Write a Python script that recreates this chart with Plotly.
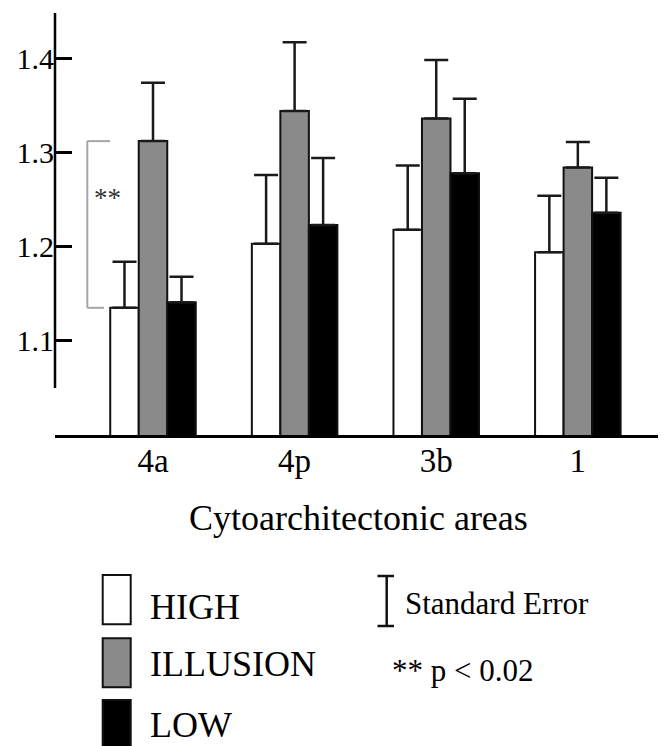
import plotly.graph_objects as go

# ---- data ----
areas = ["4a", "4p", "3b", "1"]
high = [1.135, 1.203, 1.218, 1.194]
high_se = [0.049, 0.073, 0.068, 0.060]
illusion = [1.312, 1.344, 1.336, 1.284]
illusion_se = [0.062, 0.073, 0.062, 0.027]
low = [1.141, 1.223, 1.278, 1.236]
low_se = [0.027, 0.071, 0.079, 0.037]
y_ticks = [1.1, 1.2, 1.3, 1.4]
y_tick_labels = ["1.1", "1.2", "1.3", "1.4"]

FONT = "Liberation Serif"
OFF = 8  # page body margin
W, H = 666, 746
L, R, T, B = 55 - OFF, 0, 13 - OFF, H - (435 - OFF)
plot_h = H - T - B
plot_w = W - L - R


def py(p):
    # window pixel y -> paper coordinate
    return (H - B - (p - OFF)) / plot_h


def pxx(p):
    # window pixel x -> paper coordinate
    return ((p - OFF) - L) / plot_w


fig = go.Figure()
series = [
    ("HIGH", high, high_se, "#ffffff"),
    ("ILLUSION", illusion, illusion_se, "#8a8a8a"),
    ("LOW", low, low_se, "#000000"),
]
for name, vals, se, color in series:
    fig.add_trace(go.Bar(
        name=name, x=areas, y=vals,
        marker=dict(color=color, line=dict(color="#111111", width=2)),
        error_y=dict(type="data", array=se, arrayminus=[0] * len(se),
                     symmetric=False, color="#1a1a1a", thickness=2.5, width=12),
        showlegend=False,
    ))

shapes = []
# y axis line (does not reach the baseline)
shapes.append(dict(type="line", xref="paper", yref="y", x0=0, x1=0,
                   y0=1.05, y1=1.448, line=dict(color="black", width=2.5)))
# significance bracket between HIGH and ILLUSION for 4a
bx, bx_top, bx_bot = -0.464, -0.304, -0.346
gray = "#a6a6a6"
shapes.append(dict(type="line", xref="x", yref="y", x0=bx, x1=bx,
                   y0=high[0], y1=illusion[0], line=dict(color=gray, width=2)))
shapes.append(dict(type="line", xref="x", yref="y", x0=bx, x1=bx_top,
                   y0=illusion[0], y1=illusion[0], line=dict(color=gray, width=2)))
shapes.append(dict(type="line", xref="x", yref="y", x0=bx, x1=bx_bot,
                   y0=high[0], y1=high[0], line=dict(color=gray, width=2)))

# legend boxes
legend_boxes = [(575, 624.3, "#ffffff"), (638.3, 687.3, "#8a8a8a"), (700, 752, "#000000")]
for top, bot, col in legend_boxes:
    shapes.append(dict(type="rect", xref="paper", yref="paper",
                       x0=pxx(102.7), x1=pxx(130.7), y0=py(bot), y1=py(top),
                       fillcolor=col, line=dict(color="#111111", width=2)))
# standard error symbol
shapes.append(dict(type="line", xref="paper", yref="paper", x0=pxx(386.7), x1=pxx(386.7),
                   y0=py(626.5), y1=py(575.5), line=dict(color="#111111", width=2.5)))
for yy in (576, 626):
    shapes.append(dict(type="line", xref="paper", yref="paper", x0=pxx(377.5), x1=pxx(394),
                       y0=py(yy), y1=py(yy), line=dict(color="#111111", width=2.5)))

annotations = []
annotations.append(dict(x=-0.318, y=1.252, xref="x", yref="y", text="**", showarrow=False,
                        font=dict(family=FONT, size=27, color="#333333")))
annotations.append(dict(x=pxx(358), y=py(518), xref="paper", yref="paper",
                        text="Cytoarchitectonic areas", showarrow=False,
                        xanchor="center", yanchor="middle",
                        font=dict(family=FONT, size=36, color="black")))
for label, yc in (("HIGH", 607), ("ILLUSION", 664), ("LOW", 725)):
    annotations.append(dict(x=pxx(148), y=py(yc), xref="paper", yref="paper", text=label,
                            showarrow=False, xanchor="left", yanchor="middle",
                            font=dict(family=FONT, size=36, color="black")))
annotations.append(dict(x=pxx(403), y=py(603), xref="paper", yref="paper", text="Standard Error",
                        showarrow=False, xanchor="left", yanchor="middle",
                        font=dict(family=FONT, size=31, color="black")))
annotations.append(dict(x=pxx(390), y=py(670), xref="paper", yref="paper", text="** p < 0.02",
                        showarrow=False, xanchor="left", yanchor="middle",
                        font=dict(family=FONT, size=31, color="black")))

fig.update_layout(
    width=W, height=H,
    margin=dict(l=L, r=R, t=T, b=B, pad=0),
    paper_bgcolor="white", plot_bgcolor="white",
    barmode="group", bargap=0.396, bargroupgap=0,
    font=dict(family=FONT, color="black"),
    shapes=shapes, annotations=annotations,
    xaxis=dict(range=[-0.692, 3.679], showline=True, linecolor="black", linewidth=2.5,
               showgrid=False, zeroline=False, ticks="", ticklabelstandoff=-5,
               tickfont=dict(family=FONT, size=33, color="black")),
    yaxis=dict(range=[1.0, 1.448], showline=False, showgrid=False, zeroline=False,
               tickvals=y_ticks, ticktext=y_tick_labels, ticks="inside", ticklen=17,
               tickwidth=2.5, tickcolor="black",
               tickfont=dict(family=FONT, size=30, color="black")),
)

fig.write_html("out.html")
